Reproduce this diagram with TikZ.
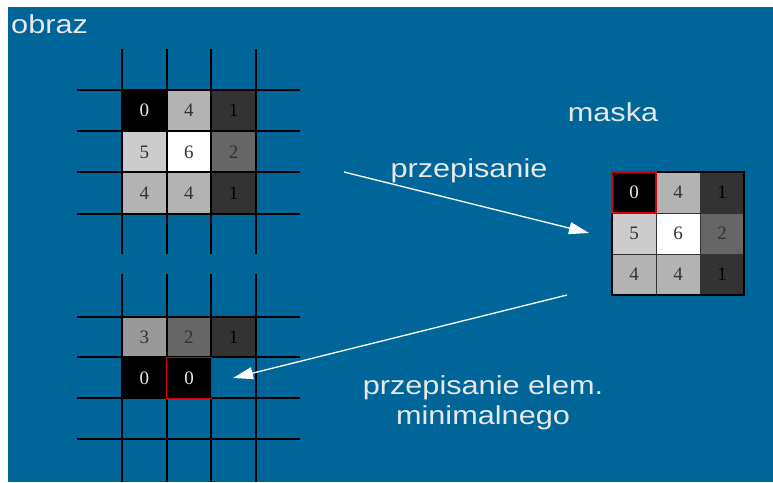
\documentclass[tikz,border=0pt]{standalone}
\usepackage{fontspec}
\setmainfont{Liberation Serif}
\newfontfamily\labelfont{Liberation Sans}
\usetikzlibrary{arrows.meta}

\definecolor{slideblue}{RGB}{0,102,153}
\definecolor{labelgray}{RGB}{232,232,232}
\definecolor{g1}{RGB}{51,51,51}
\definecolor{g2}{RGB}{102,102,102}
\definecolor{g3}{RGB}{153,153,153}
\definecolor{g4}{RGB}{179,179,179}
\definecolor{g5}{RGB}{204,204,204}
\definecolor{g6}{RGB}{255,255,255}
\definecolor{g0}{RGB}{0,0,0}

\tikzset{
  gridline/.style={draw=black, line width=1.4pt},
  cellbox/.style={draw=black!80, line width=0.8pt, inner sep=0pt,
    font=\fontsize{19}{19}\selectfont},
  darktext/.style={text=g1},
  lighttext/.style={text=labelgray},
  blacktext/.style={text=black},
  marked/.style={draw=red!85!black, line width=1.1pt},
  lbl/.style={text=labelgray, font=\labelfont\fontsize{26}{30}\selectfont,
    inner sep=0pt, xscale=1.18},
  flow/.style={draw=white, line width=1.3pt,
    -{Triangle[length=20pt,width=12pt]}}
}

\begin{document}
\begin{tikzpicture}[x=1pt,y=-1pt]
\useasboundingbox (0,0) rectangle (773,482);
\fill[white] (0,0) rectangle (773,482);
\fill[slideblue] (8,7) rectangle (773,482);

% image grid, upper part: cells
\foreach \c/\r/\sh/\tx/\t in {
  0/0/g0/lighttext/0, 1/0/g4/darktext/4, 2/0/g1/blacktext/1,
  0/1/g5/darktext/5, 1/1/g6/darktext/6, 2/1/g2/darktext/2,
  0/2/g4/darktext/4, 1/2/g4/darktext/4, 2/2/g1/blacktext/1}{
  \node[cellbox, fill=\sh, \tx, minimum width=44.7pt, minimum height=41.3pt]
    (u\c\r) at ({144.3+44.67*\c},{110.7+41.33*\r}) {\t};
}
% image grid, upper part: lines
\foreach \x in {122,167,211,256}
  \draw[gridline] (\x,49) -- (\x,254);
\foreach \y in {90,131,172,214}
  \draw[gridline] (77,\y) -- (300,\y);

% image grid, lower part: cells
\foreach \c/\r/\sh/\tx/\t in {
  0/0/g3/darktext/3, 1/0/g2/darktext/2, 2/0/g1/blacktext/1,
  0/1/g0/lighttext/0}{
  \node[cellbox, fill=\sh, \tx, minimum width=44.7pt, minimum height=40.5pt]
    (l\c\r) at ({144.3+44.67*\c},{337.3+40.5*\r}) {\t};
}
% image grid, lower part: lines
\foreach \x in {122,167,211,256}
  \draw[gridline] (\x,274) -- (\x,482);
\foreach \y in {317,357,398,439}
  \draw[gridline] (77,\y) -- (300,\y);
% current (minimum) element
\node[cellbox, marked, fill=g0, lighttext, minimum width=44.7pt, minimum height=40.5pt]
  (l11) at (189,377.8) {0};

% structuring mask
\foreach \c/\r/\sh/\tx/\t in {
  0/0/g0/lighttext/0, 1/0/g4/darktext/4, 2/0/g1/blacktext/1,
  0/1/g5/darktext/5, 1/1/g6/darktext/6, 2/1/g2/darktext/2,
  0/2/g4/darktext/4, 1/2/g4/darktext/4, 2/2/g1/blacktext/1}{
  \node[cellbox, fill=\sh, \tx, minimum width=44pt, minimum height=41pt]
    (m\c\r) at ({634+44*\c},{192.5+41*\r}) {\t};
}
\draw[black, line width=1.4pt] (612,172) rectangle (744,295);
\draw[marked] (612,172) rectangle (656,213);

% labels
\node[lbl, anchor=base west] (obraz) at (11,33) {obraz};
\node[lbl, anchor=base] (maska) at (613,121) {maska};
\node[lbl, anchor=base] (copy) at (469,177) {przepisanie};
\node[lbl, anchor=base, align=center] (copymin) at (483,424)
  {przepisanie elem.\\minimalnego};

% arrows
\coordinate (s1) at (344,172);
\coordinate (e1) at (589,233);
\coordinate (s2) at (567,295);
\coordinate (e2) at (233,378);
\draw[flow] (s1) -- (e1);
\draw[flow] (s2) -- (e2);
\end{tikzpicture}
\end{document}
